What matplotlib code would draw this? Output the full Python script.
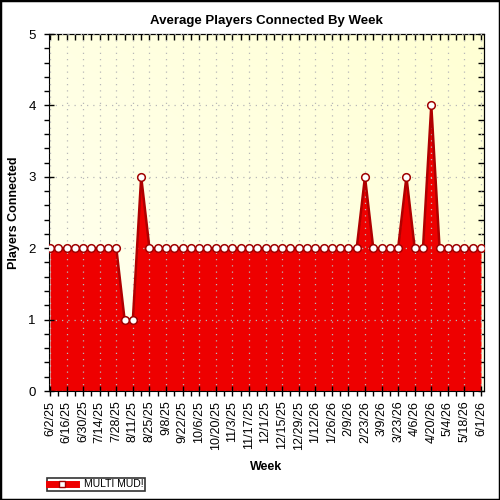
import numpy as np
import matplotlib.pyplot as plt
import pandas as pd
from matplotlib.lines import Line2D
from matplotlib.patches import Rectangle

plt.rcParams['font.family'] = ['Liberation Sans', 'DejaVu Sans']

weeks = pd.date_range('2025-06-02', periods=53, freq='7D')
week_labels = ['{}/{}/{}'.format(d.month, d.day, d.year % 100) for d in weeks]
players = [2, 2, 2, 2, 2, 2, 2, 2, 2, 1, 1, 3, 2, 2, 2, 2, 2, 2, 2, 2,
           2, 2, 2, 2, 2, 2, 2, 2, 2, 2, 2, 2, 2, 2, 2, 2, 2, 2, 3, 2,
           2, 2, 2, 3, 2, 2, 4, 2, 2, 2, 2, 2, 2]
series_name = 'MULTI MUD!'

x = np.arange(len(weeks))

fig = plt.figure(figsize=(5, 5), dpi=100)
fig.patch.set_facecolor('white')
fig.patches.append(Rectangle((0, 0), 1, 1, transform=fig.transFigure,
                             fill=False, edgecolor='black', linewidth=2.5))
ax = fig.add_axes([0.098, 0.218, 0.87, 0.714])

# yellow gradient background
grad = np.linspace(0, 1, 256)
gx, gy = np.meshgrid(grad, grad)
g = (gx + gy) / 2
c0 = np.array([1.0, 1.0, 0.95])
c1 = np.array([1.0, 1.0, 0.83])
img = c0 + (c1 - c0) * g[..., None]
ax.imshow(img, extent=[-0.12, 52.36, 0, 5], aspect='auto', origin='lower', zorder=0)

ax.fill_between(x, players, 0, color='#ee0000', zorder=2, linewidth=0)
ax.plot(x, players, color='#b00000', linewidth=1.8, zorder=3)
ax.plot(x, players, linestyle='none', marker='o', markersize=5.5,
        markerfacecolor='white', markeredgecolor='#a00000', markeredgewidth=1.1, zorder=4)

ax.set_xlim(-0.12, 52.36)
ax.set_ylim(0, 5)
ax.set_xticks(x[::2])
ax.set_xticklabels(week_labels[::2], rotation=90, fontsize=9)
ax.set_xticks(x, minor=True)
ax.set_yticks([0, 1, 2, 3, 4, 5])
ax.set_yticks(np.arange(0, 5.01, 0.2), minor=True)
ax.tick_params(axis='y', labelsize=9.5, pad=6)
ax.tick_params(which='major', length=7, width=1, direction='inout', top=False, right=False)
ax.tick_params(which='minor', length=3.5, width=1, direction='out', top=False, right=False)
# inward ticks on top and right
ax.tick_params(axis='x', which='both', top=True, direction='out')
ax.tick_params(axis='y', which='both', right=True)
ax.xaxis.set_tick_params(which='major', direction='inout')
sec_x = ax.secondary_xaxis('top')
sec_x.set_xticks(x)
sec_x.set_xticklabels([])
sec_x.tick_params(direction='in', length=4, width=1)
sec_y = ax.secondary_yaxis('right')
sec_y.set_yticks(np.arange(0, 5.01, 0.2))
sec_y.set_yticklabels([])
sec_y.tick_params(direction='in', length=4, width=1)
ax.tick_params(axis='x', which='both', top=False)
ax.tick_params(axis='y', which='both', right=False)

ax.grid(True, which='major', linestyle=(0, (1, 4)), color='#b8b8b8', linewidth=0.9, zorder=1)
ax.set_axisbelow(False)

ax.set_title('Average Players Connected By Week', fontsize=9.5, fontweight='bold', pad=7)
ax.set_xlabel('Week', fontsize=9, fontweight='bold', labelpad=8)
ax.set_ylabel('Players Connected', fontsize=9, fontweight='bold', labelpad=6)

handle = Line2D([0], [0], color='#ee0000', linewidth=5, marker='s', markersize=5,
                markerfacecolor='white', markeredgecolor='#a00000')
leg = fig.legend([handle], [series_name], loc='lower left', bbox_to_anchor=(0.094, 0.018),
                 fontsize=7.5, frameon=True, fancybox=False, edgecolor='black',
                 handlelength=2.6, borderpad=0.15, borderaxespad=0)
leg.get_frame().set_linewidth(1.2)

plt.savefig('out.png', dpi=100)
